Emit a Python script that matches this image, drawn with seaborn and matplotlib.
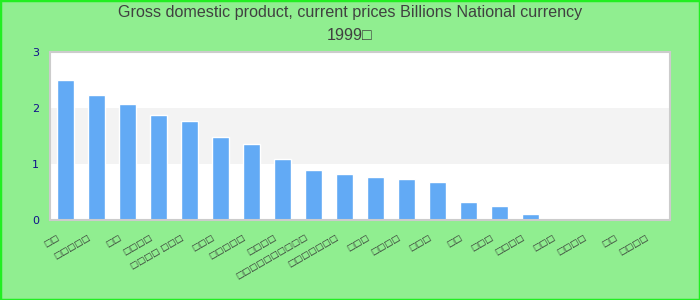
import matplotlib
matplotlib.use("Agg")
import matplotlib.pyplot as plt
import matplotlib.transforms as mtransforms
from matplotlib.patches import Rectangle
import seaborn as sns
import pandas as pd

# ---- data (labels render as empty boxes there) ----
title_line1 = "Gross domestic product, current prices Billions National currency"
title_line2 = "1999□"
labels = ["□□", "□□□□□", "□□", "□□□□", "□□□□ □□□", "□□□", "□□□□□", "□□□□",
          "□□□□□□□□□□", "□□□□□□□", "□□□", "□□□□", "□□□", "□□", "□□□", "□□□□",
          "□□□", "□□□□", "□□", "□□□□"]
values = [2.50, 2.23, 2.07, 1.875, 1.77, 1.48, 1.36, 1.09, 0.89, 0.82, 0.77,
          0.73, 0.68, 0.32, 0.25, 0.107, 0.0, 0.0, 0.0, 0.0]
yticks = [0, 1, 2, 3]

sns.set_theme(style="white")
plt.rcParams["font.family"] = ["DejaVu Sans"]

fig = plt.figure(figsize=(7, 3), dpi=100, facecolor="#90ee90")
ax = fig.add_axes([50 / 700, 80 / 300, 620 / 700, 168 / 300])
ax.set_facecolor("white")
ax.axhspan(1, 2, color="#f3f3f3", zorder=0, lw=0)

df = pd.DataFrame({"pos": list(range(len(labels))), "value": values})
sns.barplot(data=df, x="pos", y="value", color="#62aaf5", saturation=1,
            width=0.55, ax=ax, zorder=2)

ax.set_xlim(-0.5, len(labels) - 0.5)
ax.set_ylim(0, 3)
ax.set_xlabel("")
ax.set_ylabel("")
ax.set_yticks(yticks)
ax.set_yticklabels([str(t) for t in yticks], fontsize=8, color="#10108a")
ax.set_xticks(range(len(labels)))
ax.set_xticklabels(labels, rotation=30, ha="right", va="center",
                   rotation_mode="anchor", fontsize=6.2, color="#333333")
ax.tick_params(axis="x", length=0, pad=12)
ax.tick_params(axis="y", length=0, pad=8)
offset = mtransforms.ScaledTranslation(-7 / 100, 0, fig.dpi_scale_trans)
for lbl in ax.get_xticklabels():
    lbl.set_transform(lbl.get_transform() + offset)
for s in ax.spines.values():
    s.set_visible(True)
    s.set_color("#cccccc")
    s.set_linewidth(1.5)
ax.grid(False)

fig.text(350 / 700, 1 - 13 / 300, title_line1, ha="center", va="center",
         fontsize=11.6, color="#404040", family=["Liberation Sans", "DejaVu Sans"])
fig.text(350 / 700, 1 - 36 / 300, title_line2, ha="center", va="center",
         fontsize=11.6, color="#404040", family=["Liberation Sans", "DejaVu Sans"])

fig.patches.append(Rectangle((0, 0), 1, 1, transform=fig.transFigure, fill=False,
                             edgecolor="#22ee22", linewidth=2.5, zorder=10))

fig.savefig("out.png", dpi=100, facecolor=fig.get_facecolor())
